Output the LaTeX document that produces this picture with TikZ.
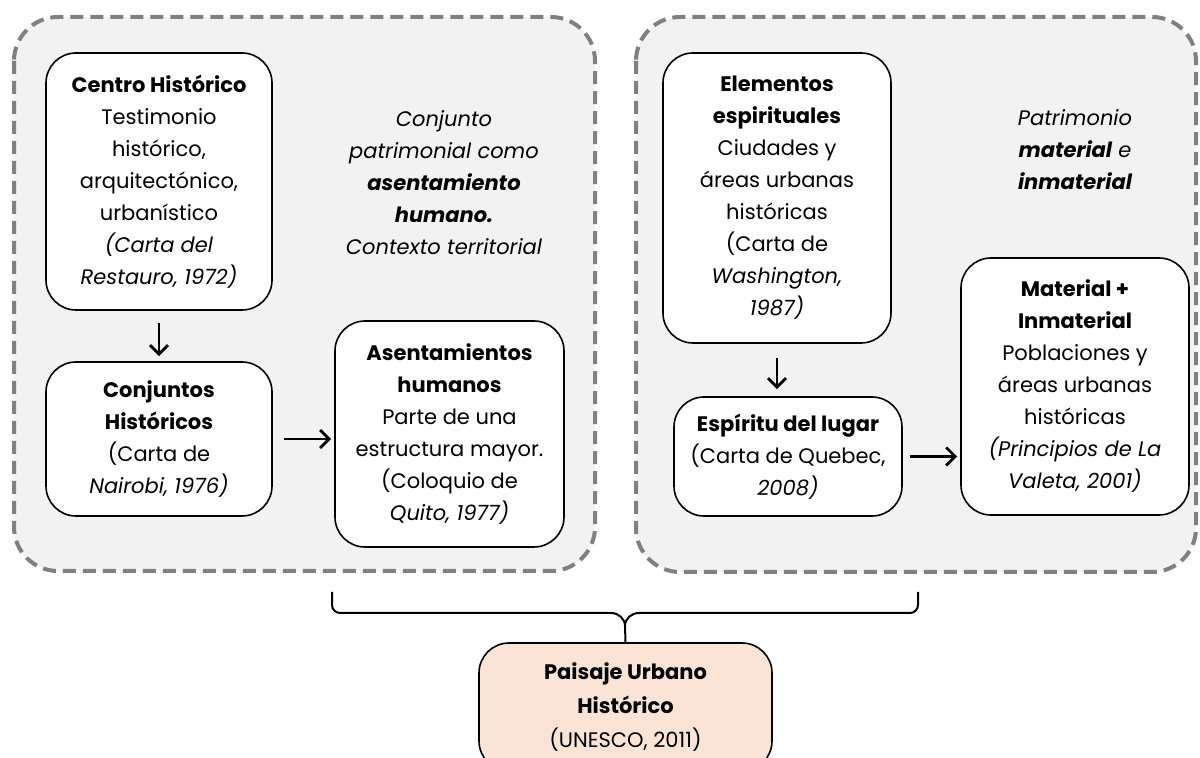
\documentclass[tikz,border=0pt]{standalone}
\usepackage{fontspec}
\setmainfont{Poppins}
\usetikzlibrary{arrows.meta}

\definecolor{grupogris}{RGB}{242,242,242}
\definecolor{bordegris}{RGB}{128,128,128}
\definecolor{salmon}{RGB}{251,228,214}

\tikzset{
  caja/.style={draw=black, fill=white, line width=0.8pt, rounded corners=15pt,
    align=center, inner sep=2pt, font=\fontsize{10.5}{16}\selectfont},
  grupo/.style={draw=bordegris, fill=grupogris, line width=2pt,
    dash pattern=on 6.5pt off 3.5pt, rounded corners=22pt},
  nota/.style={align=center, font=\fontsize{10.5}{16}\selectfont\itshape},
  flecha/.style={-{Straight Barb[length=4.5pt,width=9pt,line width=1.4pt]}, line width=1.4pt},
}

\begin{document}
\begin{tikzpicture}[x=0.5pt, y=-0.5pt]
  \useasboundingbox (0,0) rectangle (1200,758);
  % los dos grupos
  \draw[grupo] (14,17) rectangle (595,571);
  \draw[grupo] (636,17) rectangle (1196,572);

  % grupo izquierdo
  \node[caja, minimum width=113pt, minimum height=128.5pt] (centro) at (159,181.5)
    {\textbf{Centro Histórico}\\Testimonio\\histórico,\\arquitectónico,\\urbanístico\\
     \textit{(Carta del}\\\textit{Restauro, 1972)}};
  \node[caja, minimum width=113pt, minimum height=77pt] (conj) at (159,439)
    {\textbf{Conjuntos}\\\textbf{Históricos}\\(Carta de\\\textit{Nairobi, 1976)}};
  \node[caja, minimum width=114.5pt, minimum height=113pt] (asent) at (449.5,434)
    {\textbf{Asentamientos}\\\textbf{humanos}\\Parte de una\\estructura mayor.\\
     (Coloquio de\\\textit{Quito, 1977)}};
  \node[nota] (nota1) at (444,183)
    {Conjunto\\patrimonial como\\\textbf{asentamiento}\\\textbf{humano.}\\Contexto territorial};

  % grupo derecho
  \node[caja, minimum width=114pt, minimum height=145pt] (elem) at (777,198)
    {\textbf{Elementos}\\\textbf{espirituales}\\Ciudades y\\áreas urbanas\\históricas\\
     (Carta de\\\textit{Washington,}\\\textit{1987)}};
  \node[caja, minimum width=114pt, minimum height=59.5pt] (esp) at (788,456.5)
    {\textbf{Espíritu del lugar}\\(Carta de Quebec,\\\textit{2008)}};
  \node[caja, minimum width=114pt, minimum height=128.5pt] (mat) at (1075,386.5)
    {\textbf{Material +}\\\textbf{Inmaterial}\\Poblaciones y\\áreas urbanas\\históricas\\
     \textit{(Principios de La}\\\textit{Valeta, 2001)}};
  \node[nota] (nota2) at (1075,150)
    {Patrimonio\\\textbf{material} e\\\textbf{inmaterial}};

  % resultado
  \node[caja, fill=salmon, minimum width=146.5pt, minimum height=64pt,
    font=\fontsize{10.5}{17}\selectfont] (paisaje) at (625.5,707)
    {\textbf{Paisaje Urbano}\\\textbf{Histórico}\\(UNESCO, 2011)};

  \draw[flecha, shorten <=6pt, shorten >=2.5pt] (centro.south) -- (conj.north);
  \draw[flecha, shorten <=5.5pt, shorten >=1.5pt] (conj.east) -- (conj.east -| asent.west);
  \draw[flecha, shorten <=7pt, shorten >=3.5pt] (elem.south) -- (elem.south |- esp.north);
  \draw[flecha, shorten <=3.5pt, shorten >=1.5pt] (esp.east) -- (esp.east -| mat.west);

  % llave
  \coordinate (llaveA) at (332,592);
  \coordinate (llaveB) at (918,592);
  \coordinate (punta) at (625,626);
  \draw[line width=1pt, rounded corners=4pt] (llaveA) |- (611,613);
  \draw[line width=1pt, rounded corners=4pt] (llaveB) |- (639,613);
  \draw[line width=1pt] (611,613) to[out=0,in=90] (punta);
  \draw[line width=1pt] (639,613) to[out=180,in=90] (punta);
  \draw[line width=1pt] (punta) -- (paisaje.north);
\end{tikzpicture}
\end{document}
